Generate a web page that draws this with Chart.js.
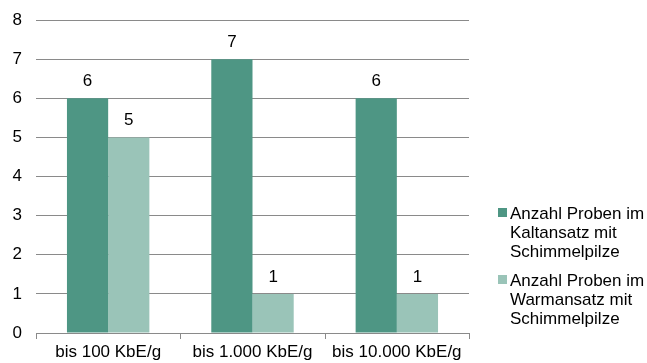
<!DOCTYPE html>
<html>
<head>
<meta charset="utf-8">
<script src="https://cdn.jsdelivr.net/npm/chart.js@4.4.1/dist/chart.umd.min.js"></script>
<style>
  html, body { margin: 0; padding: 0; background: #ffffff; }
  #wrap { width: 647px; height: 363px; position: relative; }
</style>
</head>
<body>
<div id="wrap"><canvas id="c" width="647" height="363"></canvas></div>
<script>
const categories = ['bis 100 KbE/g', 'bis 1.000 KbE/g', 'bis 10.000 KbE/g'];
const kaltansatz = [6, 7, 6];
const warmansatz = [5, 1, 1];
const seriesNames = [
  ['Anzahl Proben im', 'Kaltansatz mit', 'Schimmelpilze'],
  ['Anzahl Proben im', 'Warmansatz mit', 'Schimmelpilze']
];
const yTicks = [0, 1, 2, 3, 4, 5, 6, 7, 8];

const FONT = '"Liberation Sans", Arial, sans-serif';
const FONT_SIZE = 17;
const DARK = '#4e9684';
const LIGHT = '#9ac4b8';
const GRID = '#8a8a8a';

// value labels above each bar
const valueLabels = {
  id: 'valueLabels',
  afterDatasetsDraw(chart) {
    const ctx = chart.ctx;
    ctx.save();
    ctx.font = FONT_SIZE + 'px ' + FONT;
    ctx.fillStyle = '#000';
    ctx.textAlign = 'center';
    ctx.textBaseline = 'alphabetic';
    chart.data.datasets.forEach((ds, i) => {
      chart.getDatasetMeta(i).data.forEach((bar, j) => {
        ctx.fillText(String(ds.data[j]), bar.x, bar.y - 12);
      });
    });
    ctx.restore();
  }
};

// short tick marks below the category axis, on the category boundaries
const categoryTicks = {
  id: 'categoryTicks',
  afterDraw(chart) {
    const sx = chart.scales.x;
    const n = chart.data.labels.length;
    const ctx = chart.ctx;
    ctx.save();
    ctx.strokeStyle = GRID;
    ctx.lineWidth = 1;
    ctx.beginPath();
    for (let i = 0; i <= n; i++) {
      let px;
      if (i === 0) px = sx.left;
      else if (i === n) px = sx.right;
      else px = (sx.getPixelForValue(i - 1) + sx.getPixelForValue(i)) / 2;
      px = Math.round(px) + 0.5;
      ctx.moveTo(px, sx.top);
      ctx.lineTo(px, sx.top + 6);
    }
    ctx.stroke();
    ctx.restore();
  }
};

// legend with wrapped entries at the right
const sideLegend = {
  id: 'sideLegend',
  afterDraw(chart) {
    const ctx = chart.ctx;
    ctx.save();
    ctx.font = FONT_SIZE + 'px ' + FONT;
    ctx.textBaseline = 'alphabetic';
    ctx.textAlign = 'left';
    const x = 498;
    let y = 219;
    const lh = 19;
    chart.data.datasets.forEach((ds) => {
      ctx.fillStyle = ds.backgroundColor;
      ctx.fillRect(x, y - 11, 9, 9);
      ctx.fillStyle = '#000';
      ds.label.forEach((line, k) => {
        ctx.fillText(line, x + 12, y + k * lh);
      });
      y += ds.label.length * lh + 10;
    });
    ctx.restore();
  }
};

new Chart(document.getElementById('c'), {
  type: 'bar',
  data: {
    labels: categories,
    datasets: [
      { label: seriesNames[0], data: kaltansatz, backgroundColor: DARK },
      { label: seriesNames[1], data: warmansatz, backgroundColor: LIGHT }
    ]
  },
  options: {
    responsive: false,
    animation: false,
    layout: { padding: { top: 20, right: 178, bottom: 0, left: 0 } },
    categoryPercentage: 0.571,
    barPercentage: 1.0,
    plugins: {
      legend: { display: false },
      tooltip: { enabled: false }
    },
    scales: {
      x: {
        afterFit(axis) { axis.height = 30; },
        grid: { display: false, drawTicks: false, tickLength: 0 },
        border: { display: true, color: GRID, width: 1 },
        ticks: {
          color: '#000',
          font: { family: FONT, size: FONT_SIZE },
          padding: 9,
          maxRotation: 0
        }
      },
      y: {
        min: 0,
        max: 8,
        afterBuildTicks(axis) { axis.ticks = yTicks.map(v => ({ value: v })); },
        afterFit(axis) {
          axis.width = 36;
          axis.paddingTop = 0;
          axis.paddingBottom = 0;
        },
        grid: { color: GRID, drawTicks: false, lineWidth: 1 },
        border: { display: false, width: 0, color: 'rgba(0,0,0,0)' },
        ticks: {
          color: '#000',
          font: { family: FONT, size: FONT_SIZE },
          padding: 14
        }
      }
    }
  },
  plugins: [valueLabels, categoryTicks, sideLegend]
});
</script>
</body>
</html>
